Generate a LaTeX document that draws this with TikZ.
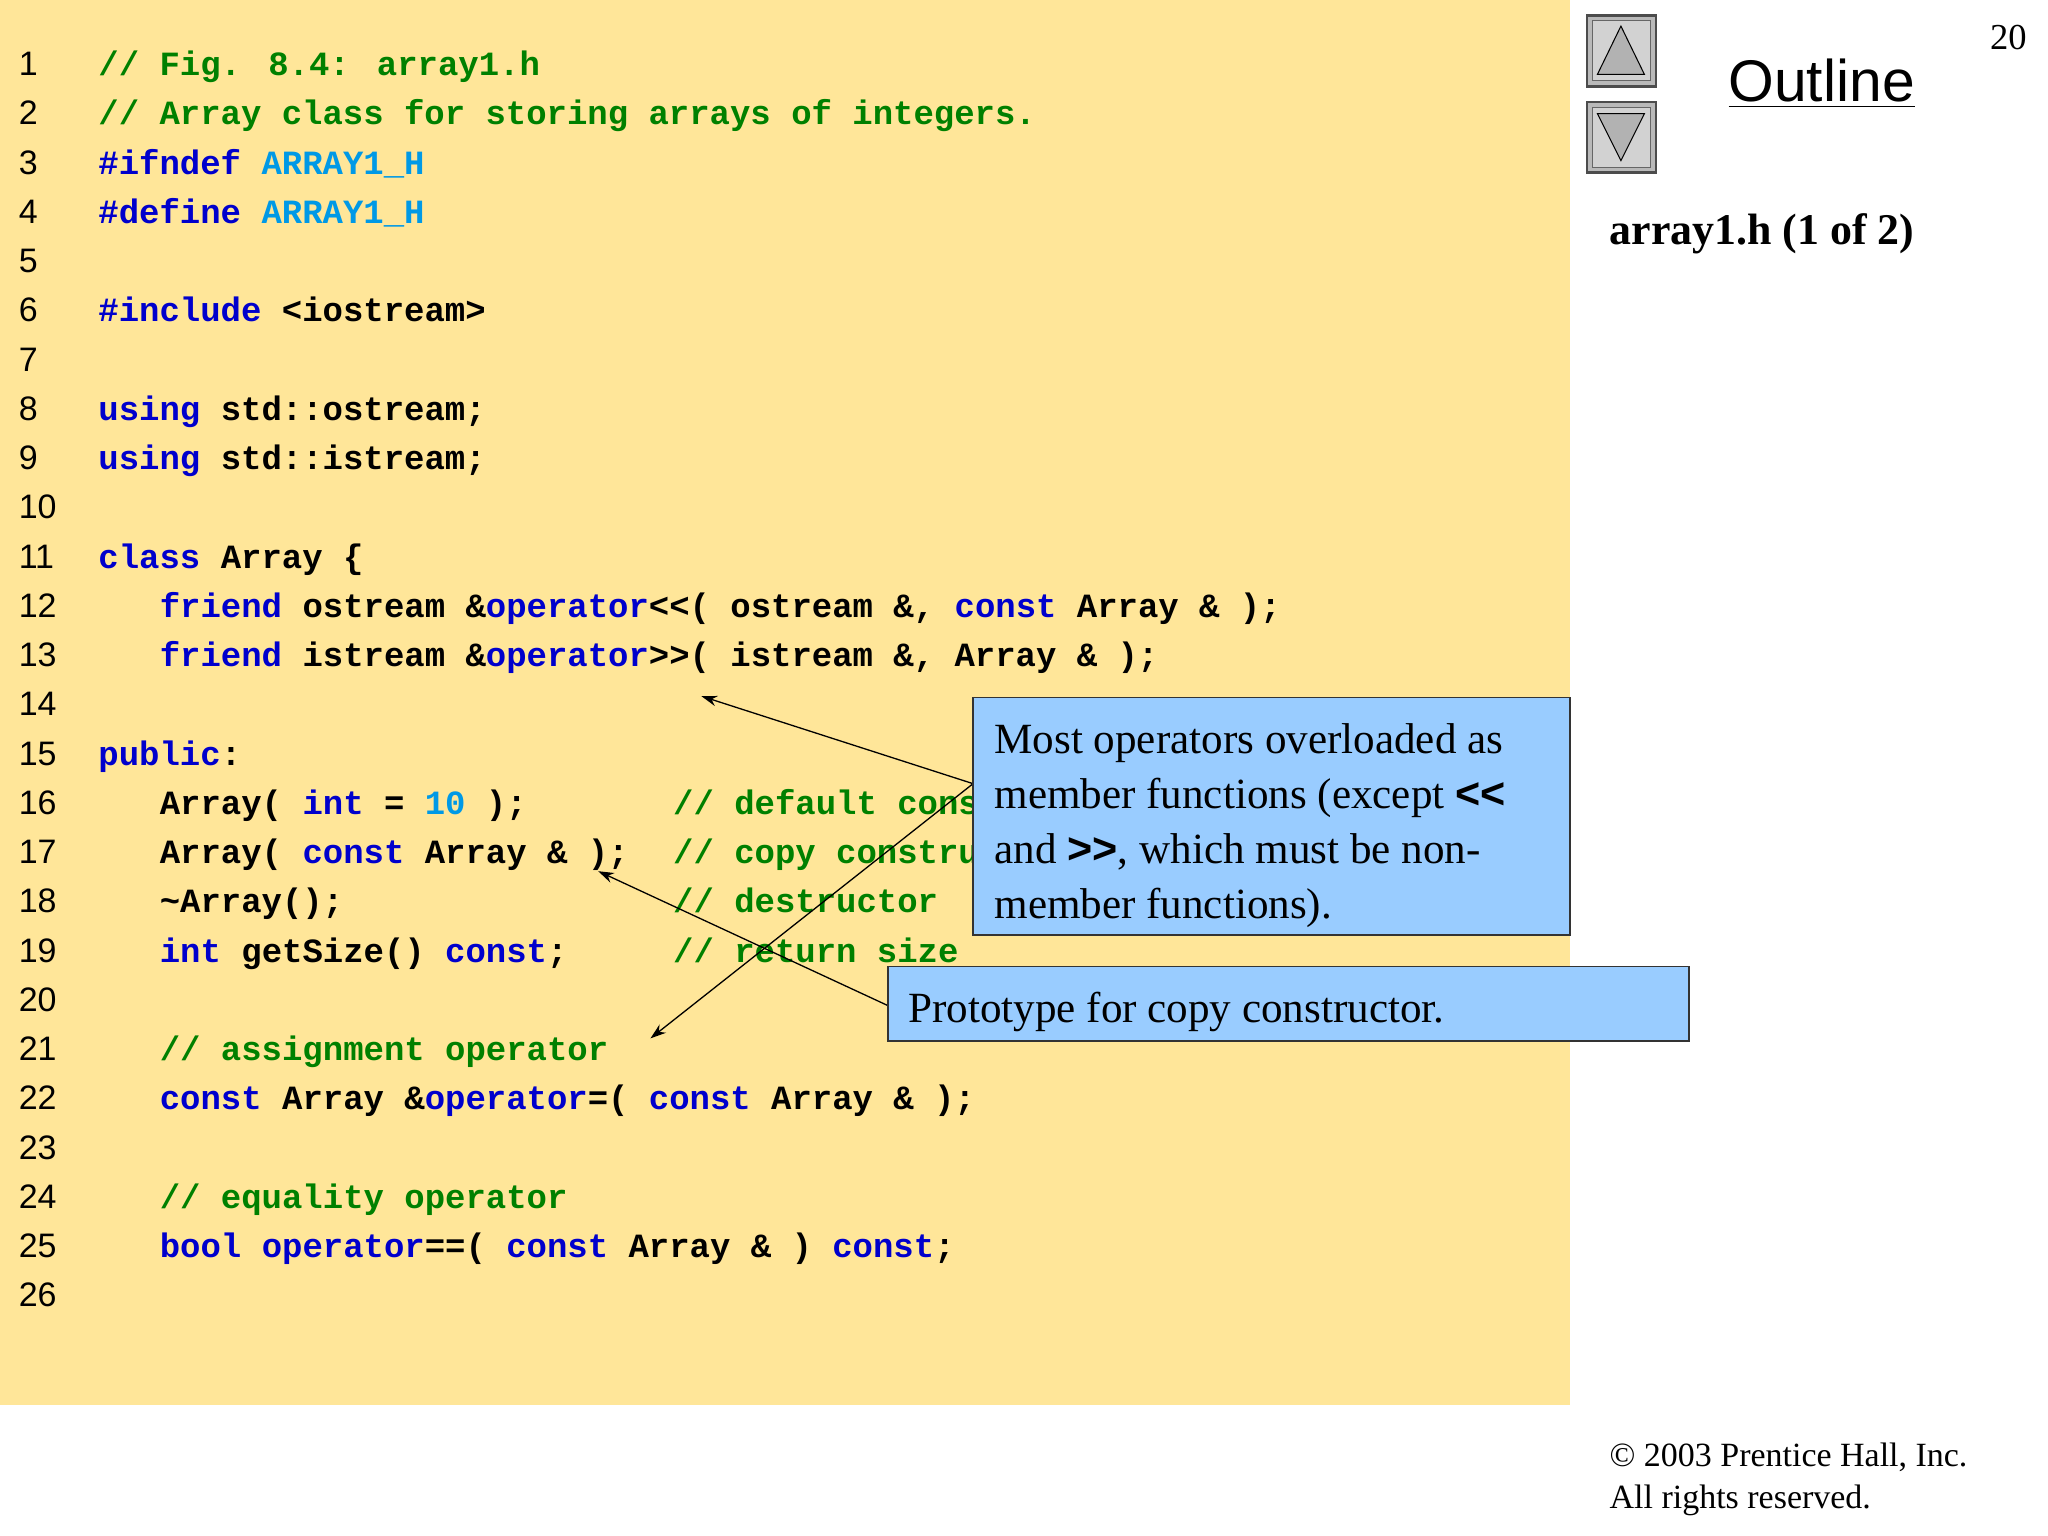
\documentclass[tikz,border=0pt]{standalone}
\usepackage{fontspec}
\setmainfont{Liberation Serif}
\newfontfamily\codefont{Liberation Mono}
\newfontfamily\sansf{Liberation Sans}
\newfontfamily\bsans{Liberation Sans Bold}
\usetikzlibrary{arrows.meta}
\definecolor{bg}{RGB}{255,230,153}
\definecolor{cmt}{RGB}{0,128,0}
\definecolor{kw}{RGB}{0,0,204}
\definecolor{lb}{RGB}{0,153,230}
\definecolor{callout}{RGB}{153,204,255}
\newcommand{\kwd}[1]{\textcolor{kw}{#1}}
\newcommand{\cmt}[1]{\textcolor{cmt}{#1}}
\newcommand{\lbl}[1]{\textcolor{lb}{#1}}
\begin{document}
\begin{tikzpicture}[x=0.5pt,y=-0.5pt,
  code/.style={anchor=base west,inner sep=0,font=\codefont\bfseries\fontsize{13}{13}\selectfont},
  num/.style={anchor=base west,inner sep=0,font=\sansf\fontsize{13}{13}\selectfont},
  box/.style={draw=black!80,fill=callout,line width=0.6pt},
  btxt/.style={anchor=base west,inner sep=0,font=\fontsize{16.5}{16.5}\selectfont},
  arr/.style={-{Stealth[length=6pt,width=4pt]},line width=0.5pt}]
\useasboundingbox (0,0) rectangle (1568,1176);
\fill[white] (0,0) rectangle (1568,1176);
\fill[bg] (0,0) rectangle (1202,1076);
\foreach \i in {1,...,26}{
  \node[num] (n\i) at (14,{58+37.7*(\i-1)}) {\i};
}
\node[code] (c1) at (75,58) {\cmt{// Fig. 8.4: array1.h}};
\node[code] (c2) at (75,95.7) {\cmt{// Array class for storing arrays of integers.}};
\node[code] (c3) at (75,133.4) {\kwd{\#ifndef} \lbl{ARRAY1\_H}};
\node[code] (c4) at (75,171.1) {\kwd{\#define} \lbl{ARRAY1\_H}};
\node[code] (c6) at (75,246.5) {\kwd{\#include} <iostream>};
\node[code] (c8) at (75,321.9) {\kwd{using} std::ostream;};
\node[code] (c9) at (75,359.6) {\kwd{using} std::istream;};
\node[code] (c11) at (75,435) {\kwd{class} Array \{};
\node[code] (c12) at (122,472.7) {\kwd{friend} ostream \&\kwd{operator}<{}<( ostream \&, \kwd{const} Array \& );};
\node[code] (c13) at (122,510.4) {\kwd{friend} istream \&\kwd{operator}>{}>( istream \&, Array \& );};
\node[code] (c15) at (75,585.8) {\kwd{public}:};
\node[code] (c16) at (122,623.5) {Array( \kwd{int} = \lbl{10} );};
\node[code] (c17) at (122,661.2) {Array( \kwd{const} Array \& );};
\node[code] (c18) at (122,698.9) {\textasciitilde Array();};
\node[code] (c19) at (122,736.6) {\kwd{int} getSize() \kwd{const};};
\node[code] (k16) at (515,623.5) {\cmt{// default cons}};
\node[code] (k17) at (515,661.2) {\cmt{// copy constru}};
\node[code] (k18) at (515,698.9) {\cmt{// destructor}};
\node[code] (k19) at (515,736.6) {\cmt{// return size}};
\node[code] (c21) at (122,812) {\cmt{// assignment operator}};
\node[code] (c22) at (122,849.7) {\kwd{const} Array \&\kwd{operator}=( \kwd{const} Array \& );};
\node[code] (c24) at (122,925.1) {\cmt{// equality operator}};
\node[code] (c25) at (122,962.8) {\kwd{bool} \kwd{operator}==( \kwd{const} Array \& ) \kwd{const};};
% callouts
\coordinate (t1) at (537,533);
\coordinate (t2) at (498,795);
\coordinate (t3) at (458,667);
\coordinate (s1) at (745,600);
\coordinate (s2) at (680,770);
\draw[arr] (s1) -- (t1);
\draw[arr] (s1) -- (t2);
\draw[arr] (s2) -- (t3);
\draw[box] (745,534) rectangle (1202,716);
\node[btxt] (b1a) at (761,577) {Most operators overloaded as};
\node[btxt] (b1b) at (761,619) {member functions (except {\bsans <{}<}};
\node[btxt] (b1c) at (761,661) {and {\bsans >{}>}, which must be non-};
\node[btxt] (b1d) at (761,703) {member functions).};
\draw[box] (680,740) rectangle (1293,797);
\node[btxt] (b2) at (695,783) {Prototype for copy constructor.};
% right panel
\foreach \yy in {12,78}{
  \draw[fill=gray!55,draw=black!70,line width=1pt] (1215,\yy) rectangle (1268,\yy+54);
  \draw[fill=gray!35,draw=black!60] (1219,\yy+4) rectangle (1264,\yy+50);
}
\draw[fill=gray!60,draw=black] (1241,20) -- (1259,57) -- (1223,57) -- cycle;
\draw[fill=gray!60,draw=black] (1223,87) -- (1259,87) -- (1241,123) -- cycle;
\node[anchor=base west,inner sep=0,font=\sansf\fontsize{22.5}{22.5}\selectfont] (ol) at (1323,78) {\underline{Outline}};
\node[anchor=base east,inner sep=0,font=\fontsize{14}{14}\selectfont] (pg) at (1552,38) {20};
\node[anchor=base west,inner sep=0,font=\bfseries\fontsize{16.8}{16.8}\selectfont] (ti) at (1232,187) {array1.h (1 of 2)};
\node[anchor=base west,inner sep=0,font=\fontsize{13}{13}\selectfont] (cp1) at (1232,1123) {\textcopyright{} 2003 Prentice Hall, Inc.};
\node[anchor=base west,inner sep=0,font=\fontsize{13}{13}\selectfont] (cp2) at (1232,1155) {All rights reserved.};
\end{tikzpicture}
\end{document}
